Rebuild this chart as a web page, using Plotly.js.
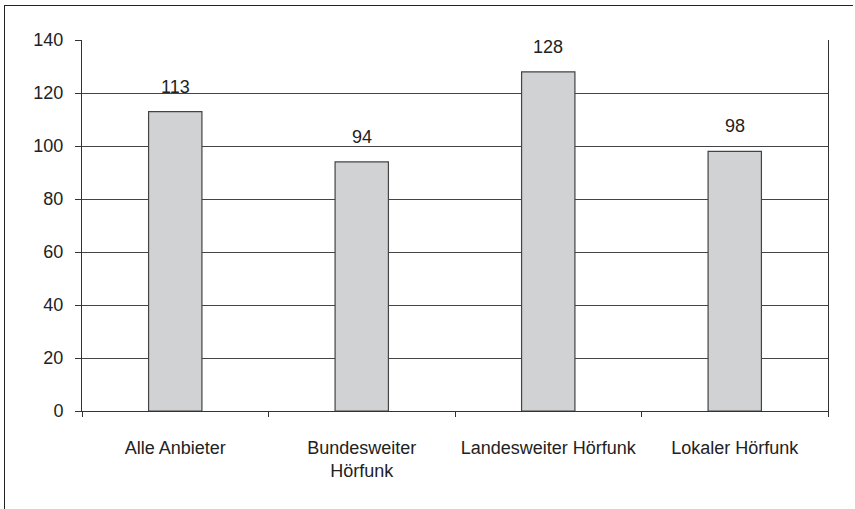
<!DOCTYPE html>
<html>
<head>
<meta charset="utf-8">
<script src="https://cdn.plot.ly/plotly-3.0.1.min.js"></script>
<style>
  html, body { margin: 0; padding: 0; background: #fff; }
  #wrap { position: relative; width: 855px; height: 509px; overflow: hidden; }
  #chart { position: absolute; left: 0; top: 0; width: 855px; height: 509px; }
  #frame { position: absolute; left: 4px; top: 5px; width: 848px; height: 520px;
           border-left: 1.5px solid #222; border-top: 1.5px solid #222; pointer-events: none; }
</style>
</head>
<body>
<div id="wrap">
  <div id="chart"></div>
  <div id="frame"></div>
</div>
<script>
const categories = ["Alle Anbieter", "Bundesweiter<br>Hörfunk", "Landesweiter Hörfunk", "Lokaler Hörfunk"];
const values = [113, 94, 128, 98];
const yTicks = [0, 20, 40, 60, 80, 100, 120, 140];

const fontFam = "Liberation Sans, Arial, Helvetica, sans-serif";
const textCol = "#222";
const fs = 18;

const trace = {
  type: "bar",
  x: categories,
  y: values,
  width: 0.286,
  marker: { color: "#d1d2d4", line: { color: "#444", width: 1.2 } },
  hoverinfo: "skip"
};

const annotations = values.map((v, i) => ({
  x: categories[i], y: v, xref: "x", yref: "y",
  text: String(v), showarrow: false,
  yanchor: "middle", yshift: 25,
  font: { family: fontFam, size: fs, color: textCol }
}));

const layout = {
  width: 855, height: 509,
  margin: { l: 82, r: 27, t: 40, b: 98 },
  paper_bgcolor: "#fff", plot_bgcolor: "#fff",
  showlegend: false,
  font: { family: fontFam, size: fs, color: textCol },
  xaxis: {
    type: "category",
    tickson: "boundaries",
    ticks: "outside", ticklen: 5, tickwidth: 1, tickcolor: "#333",
    showgrid: false, showline: true, linecolor: "#333", linewidth: 1,
    ticklabelstandoff: 20,
    tickfont: { family: fontFam, size: fs, color: textCol },
    fixedrange: true
  },
  yaxis: {
    range: [0, 140],
    tickvals: yTicks,
    ticktext: yTicks.map(String),
    ticks: "outside", ticklen: 6, tickwidth: 1, tickcolor: "#333",
    showgrid: true, gridcolor: "#444", gridwidth: 1,
    showline: true, linecolor: "#333", linewidth: 1, mirror: true,
    zeroline: false,
    ticklabelstandoff: 8,
    tickfont: { family: fontFam, size: fs, color: textCol },
    fixedrange: true
  },
  annotations: annotations
};

Plotly.newPlot("chart", [trace], layout, { displayModeBar: false, staticPlot: true });
</script>
</body>
</html>
